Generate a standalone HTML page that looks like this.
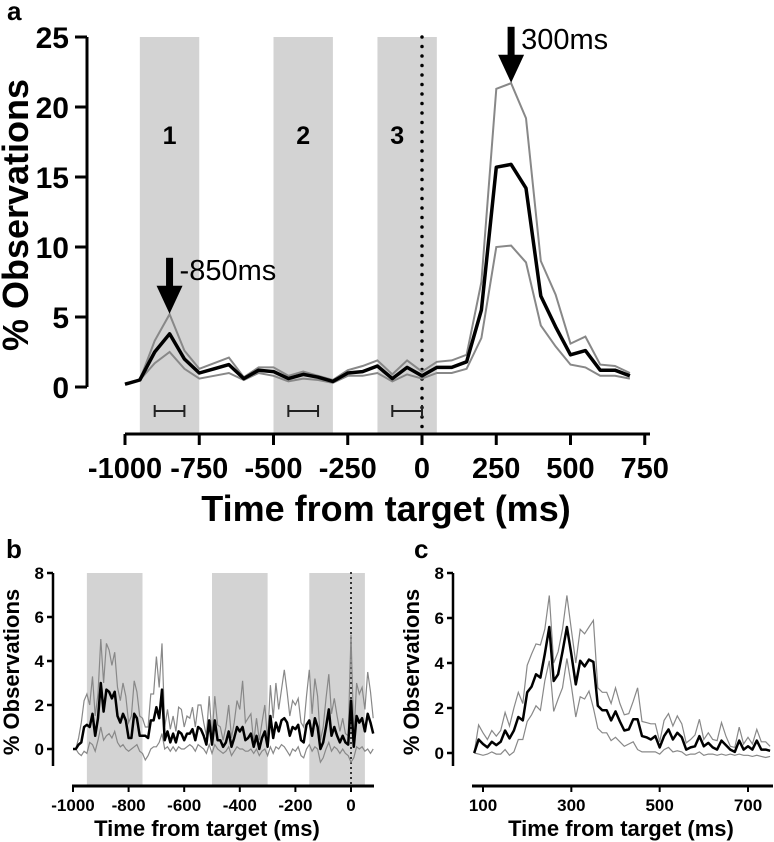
<!DOCTYPE html>
<html><head><meta charset="utf-8"><style>
body{margin:0;background:#fff;}
svg{display:block;font-family:"Liberation Sans",Arial,sans-serif;}
</style></head><body>
<svg id="fig" width="774" height="842" viewBox="0 0 774 842">
<g id="pa"></g>
<g id="pb"></g>
<g id="pc"></g>
</svg>
<script>
// Panel a data (50ms bins)
const aStart = -1000, aStep = 50;
const aMean = [0.2,0.5,2.5,3.8,2.0,1.0,1.3,1.6,0.6,1.2,1.1,0.6,0.9,0.7,0.4,1.0,1.1,1.5,0.6,1.4,0.8,1.4,1.4,1.8,5.5,15.7,15.9,14.2,6.5,4.3,2.3,2.6,1.2,1.2,0.8];
const aUpper = [0.2,0.5,3.3,5.2,2.6,1.3,1.7,2.1,0.7,1.4,1.4,0.8,1.1,0.8,0.5,1.2,1.5,1.9,0.9,1.9,1.1,1.8,1.9,2.3,7.5,21.3,21.7,19.2,9.0,6.6,3.1,3.6,1.6,1.5,1.0];
const aLower = [0.2,0.5,1.7,2.5,1.3,0.6,0.8,1.0,0.5,1.0,0.8,0.4,0.6,0.5,0.3,0.8,0.8,1.0,0.4,0.9,0.6,1.0,1.0,1.3,3.5,10.0,10.1,8.9,4.4,2.9,1.6,1.4,0.8,0.8,0.6];
const aXTicks = [-1000,-750,-500,-250,0,250,500,750];
const aYTicks = [0,5,10,15,20,25];
const aBands = [[-950,-750,'1'],[-500,-300,'2'],[-150,50,'3']];
const aErr = [[-900,-800],[-450,-350],[-100,0]];
// Panel b data (10ms bins)
const bStart = -1000, bStep = 10;
const bMean = [0,0,0.2,0.3,1.0,1.1,1.0,1.6,0.6,1.4,3.0,1.7,2.7,2.6,2.3,2.6,1.5,1.2,1.6,1.3,0.5,0.5,1.6,1.4,0.6,0.6,0.6,0.5,1.3,1.3,1.9,1.4,2.7,0.4,0.8,0.3,0.7,0.3,0.8,0.7,0.4,0.7,0.7,0.9,0.4,1.0,0.9,0.6,0.2,1.3,0.2,1.3,0.4,0.4,0.1,0.3,0.8,0.1,0.5,1.0,0.8,1.0,0.4,0.5,0.7,0.1,0.6,0.0,0.5,0.8,0.1,1.5,0.5,1.2,0.8,1.3,1.4,1.2,0.6,1.0,0.9,1.1,0.4,0.3,1.1,1.3,0.6,1.4,1.0,0.0,0.3,1.0,1.8,0.6,1.0,0.6,0.3,0.6,0.3,0.2,2.2,0.1,1.5,1.2,1.4,0.8,1.6,1.2,0.7];
const bUpper = [0,0,0.5,1.2,2.2,2.5,2.0,3.3,1.5,2.5,5.0,3.0,4.8,4.5,3.8,4.4,2.8,2.2,3.0,2.4,1.2,1.5,3.1,2.6,1.5,1.4,1.0,1.0,2.5,2.5,4.2,2.8,4.8,1.0,1.8,0.9,1.5,0.8,1.9,1.8,1.0,1.5,1.4,1.9,1.0,2.0,2.0,1.2,0.6,2.4,0.6,2.4,1.1,1.0,0.4,1.0,2.0,0.5,1.2,2.2,1.8,3.1,1.2,1.4,1.6,0.3,1.4,0.4,1.2,2.0,0.4,2.9,1.4,3.0,1.8,2.7,3.6,2.6,1.5,2.2,2.0,2.3,1.2,1.0,2.4,3.6,1.6,3.2,2.4,0.4,1.0,2.3,3.4,1.6,2.3,1.5,0.8,1.4,0.7,0.6,5.2,0.5,3.0,2.5,2.8,1.8,3.5,2.6,1.4];
const bLower = [0,0,-0.2,-0.3,-0.1,-0.2,0.3,0.2,-0.1,0.4,1.0,0.4,0.6,0.7,0.5,0.8,0.3,0.1,0.2,0.0,-0.1,0.0,0.1,0.2,-0.1,-0.2,-0.5,-0.3,0.0,0.1,0.1,0.3,0.7,0.0,0.1,-0.1,0.1,-0.1,0.1,0.0,0.0,0.1,0.2,0.1,-0.1,0.2,0.1,0.0,-0.2,0.2,-0.2,0.2,0.0,-0.1,-0.2,-0.1,0.1,-0.3,-0.1,0.1,0.0,0.0,-0.1,-0.1,0.0,-0.2,0.0,-0.3,-0.1,0.0,-0.3,0.1,-0.2,0.1,0.0,0.2,0.1,-0.1,-0.3,0.0,-0.1,0.1,-0.3,-0.4,0.0,0.2,-0.1,0.1,0.0,-0.6,-0.4,0.0,0.3,-0.1,0.1,0.0,-0.2,0.0,-0.2,-0.3,-0.6,-0.4,0.1,0.0,0.1,-0.1,0.0,-0.2,0.0];
const bXTicks = [-1000,-800,-600,-400,-200,0];
const bYTicks = [0,2,4,6,8];
const bBands = [[-950,-750],[-500,-300],[-150,50]];
// Panel c data (10ms bins)
const cStart = 80, cStep = 10;
const cMean = [0,0.6,0.4,0.25,0.5,0.35,0.5,1.0,0.65,1.0,1.6,1.45,2.7,2.95,3.5,3.35,4.4,5.6,3.2,3.5,4.5,5.6,4.4,3.05,4.1,3.85,4.15,4.05,2.1,1.9,1.9,1.45,1.85,1.4,1.0,1.05,1.5,1.5,0.75,0.7,0.6,0.75,0.25,0.75,1.05,0.6,0.9,0.7,0.15,0.25,0.3,0.75,0.3,0.45,0.25,0.15,0.55,0.35,0.15,0.05,0.55,0.15,0.3,0.15,0.55,0.15,0.15,0.1];
const cUpper = [0,1.25,0.9,0.6,1.0,0.75,1.0,1.8,1.2,2.0,2.7,2.2,3.9,4.4,4.85,4.8,5.5,7.0,4.0,4.5,5.5,7.0,5.5,4.0,5.5,5.3,5.6,5.9,2.9,2.7,2.7,2.2,2.9,2.2,1.7,1.75,2.3,2.9,1.4,1.35,1.3,1.3,0.5,1.45,1.75,1.2,1.65,1.3,0.45,0.6,0.8,1.5,0.6,0.9,0.6,0.55,1.35,0.75,0.3,0.25,1.15,0.4,0.7,0.4,1.05,0.5,0.5,0.3];
const cLower = [0,-0.05,-0.1,-0.05,0.05,-0.05,-0.05,0.15,-0.1,0.05,0.6,0.6,1.4,1.7,2.1,1.9,3.2,4.1,1.85,2.4,2.9,4.2,3.0,1.6,2.5,2.4,2.75,2.0,1.1,0.9,0.9,0.55,0.7,0.5,0.3,0.4,0.5,0.15,0.05,0.05,0.05,0.05,-0.05,0.15,0.25,0.05,0.1,0.05,-0.1,-0.05,-0.05,0.05,-0.1,-0.05,-0.05,-0.1,-0.05,-0.1,-0.05,-0.1,-0.05,-0.1,-0.1,-0.15,-0.1,-0.15,-0.2,-0.15];
const cXTicks = [100,300,500,700];
const cYTicks = [0,2,4,6,8];

const NS = 'http://www.w3.org/2000/svg';
function mk(parent, tag, attrs, text){
  const e = document.createElementNS(NS, tag);
  for (const k in attrs) e.setAttribute(k, attrs[k]);
  if (text !== undefined) e.textContent = text;
  parent.appendChild(e);
  return e;
}
function lin(d0,d1,r0,r1){ return v => r0 + (v-d0)*(r1-r0)/(d1-d0); }
function pathFrom(arr, start, step, X, Y){
  return arr.map((v,i)=>(i?'L':'M')+X(start+i*step).toFixed(1)+','+Y(v).toFixed(1)).join('');
}

// ---------- Panel A ----------
(function(){
  const g = document.getElementById('pa');
  const X = lin(-1000,0,125,422), Y = lin(0,25,387,37);
  const yAxisX = 87, xAxisY = 434;
  aBands.forEach(b=>{
    const r = mk(g,'rect',{x:X(b[0]),y:37,width:X(b[1])-X(b[0]),height:xAxisY-37,fill:'#d3d3d3'});
    
    
    const t = mk(g,'text',{x:(X(b[0])+X(b[1]))/2-(b[2]==='3'?10:0),y:144,'text-anchor':'middle','font-size':25,'font-weight':'bold'},b[2]);
    
    
  });
  const zl = mk(g,'line',{x1:X(0),y1:37,x2:X(0),y2:xAxisY,stroke:'#000','stroke-width':3.5,'stroke-dasharray':'0 9.5','stroke-linecap':'round'});
  
  
  aErr.forEach((e,i)=>{
    const y=411, eg = mk(g,'g',{stroke:'#222','stroke-width':2});
    
    
    mk(eg,'line',{x1:X(e[0]),y1:y,x2:X(e[1]),y2:y});
    mk(eg,'line',{x1:X(e[0]),y1:y-6,x2:X(e[0]),y2:y+6});
    mk(eg,'line',{x1:X(e[1]),y1:y-6,x2:X(e[1]),y2:y+6});
  });
  const lu = mk(g,'path',{d:pathFrom(aUpper,aStart,aStep,X,Y),fill:'none',stroke:'#888','stroke-width':2});
  
  
  const ll = mk(g,'path',{d:pathFrom(aLower,aStart,aStep,X,Y),fill:'none',stroke:'#888','stroke-width':2});
  
  
  const lm = mk(g,'path',{d:pathFrom(aMean,aStart,aStep,X,Y),fill:'none',stroke:'#000','stroke-width':3.5,'stroke-linejoin':'round'});
  
  
  // arrows
  [[-850,5.3,'-850ms'],[300,21.8,'300ms']].forEach(a=>{
    const ag = mk(g,'g',{});
    
    
    const x=X(a[0]), tip=Y(a[1])+1;
    mk(ag,'rect',{x:x-3.5,y:tip-56,width:7,height:30,fill:'#000'});
    mk(ag,'polygon',{points:`${x-13},${tip-28} ${x+13},${tip-28} ${x},${tip}`,fill:'#000'});
    const t = mk(ag,'text',{x:x+10,y:tip-34,'font-size':29},a[2]);
    
    
  });
  // axes
  const ya = mk(g,'line',{x1:yAxisX,y1:37,x2:yAxisX,y2:387,stroke:'#000','stroke-width':3});
  
  
  aYTicks.forEach(v=>{
    mk(g,'line',{x1:yAxisX-12,y1:Y(v),x2:yAxisX,y2:Y(v),stroke:'#000','stroke-width':3});
    const t = mk(g,'text',{x:yAxisX-18,y:Y(v)+11,'text-anchor':'end','font-size':30,'font-weight':'bold'},v);
    
    
  });
  const xa = mk(g,'line',{x1:125,y1:xAxisY,x2:650,y2:xAxisY,stroke:'#000','stroke-width':3});
  
  
  aXTicks.forEach(v=>{
    mk(g,'line',{x1:X(v),y1:xAxisY,x2:X(v),y2:xAxisY+11,stroke:'#000','stroke-width':3});
    const t = mk(g,'text',{x:X(v),y:478,'text-anchor':'middle','font-size':29,'font-weight':'bold'},v);
    
    
  });
  const xt = mk(g,'text',{x:386,y:521,'text-anchor':'middle','font-size':36,'font-weight':'bold'},'Time from target (ms)');
  
  
  const yt = mk(g,'text',{x:0,y:0,transform:'translate(28,215) rotate(-90)','text-anchor':'middle','font-size':36,'font-weight':'bold'},'% Observations');
  
  
  const pl = mk(g,'text',{x:7,y:20,'font-size':26,'font-weight':'bold'},'a');
  
  
})();

// ---------- small panels ----------
function small(gid, label, start, step, mean, upper, lower, xticks, yticks, bands, X, axX0, axX1, yAxisX, labelX, labelY, titleX, dotted){
  const g = document.getElementById(gid);
  const Y = lin(0,8,gid==='pb'?749:753,573);
  const xAxisY = 786;
  (bands||[]).forEach((b,i)=>{
    const r = mk(g,'rect',{x:X(b[0]),y:573,width:X(b[1])-X(b[0]),height:xAxisY-573,fill:'#d3d3d3'});
    
    
  });
  if (dotted){
    const zl = mk(g,'line',{x1:X(0),y1:573,x2:X(0),y2:xAxisY,stroke:'#000','stroke-width':2,'stroke-dasharray':'0 5','stroke-linecap':'round'});
    
    
  }
  const lu = mk(g,'path',{d:pathFrom(upper,start,step,X,Y),fill:'none',stroke:'#888','stroke-width':1.2});
  
  
  const ll = mk(g,'path',{d:pathFrom(lower,start,step,X,Y),fill:'none',stroke:'#888','stroke-width':1.2});
  
  
  const lm = mk(g,'path',{d:pathFrom(mean,start,step,X,Y),fill:'none',stroke:'#000','stroke-width':2.5,'stroke-linejoin':'round'});
  
  
  const ya = mk(g,'line',{x1:yAxisX,y1:573,x2:yAxisX,y2:766,stroke:'#000','stroke-width':2.5});
  
  
  yticks.forEach(v=>{
    mk(g,'line',{x1:yAxisX-6,y1:Y(v),x2:yAxisX,y2:Y(v),stroke:'#000','stroke-width':2.5});
    const t = mk(g,'text',{x:yAxisX-9,y:Y(v)+6,'text-anchor':'end','font-size':17,'font-weight':'bold'},v);
    
    
  });
  const xa = mk(g,'line',{x1:axX0,y1:xAxisY,x2:axX1,y2:xAxisY,stroke:'#000','stroke-width':3});
  
  
  xticks.forEach(v=>{
    mk(g,'line',{x1:X(v),y1:xAxisY,x2:X(v),y2:xAxisY+6,stroke:'#000','stroke-width':2});
    const t = mk(g,'text',{x:X(v),y:811,'text-anchor':'middle','font-size':17,'font-weight':'bold'},v);
    
    
  });
  const xt = mk(g,'text',{x:titleX,y:836,'text-anchor':'middle','font-size':22,'font-weight':'bold'},'Time from target (ms)');
  
  
  const yt = mk(g,'text',{x:0,y:0,transform:`translate(${yAxisX-34},${672}) rotate(-90)`,'text-anchor':'middle','font-size':22,'font-weight':'bold'},'% Observations');
  
  
  const pl = mk(g,'text',{x:labelX,y:labelY,'font-size':26,'font-weight':'bold'},label);
  
  
}
small('pb','b',bStart,bStep,bMean,bUpper,bLower,bXTicks,bYTicks,bBands,lin(-1000,0,73,351),72,374,53,6,558,207,true);
small('pc','c',cStart,cStep,cMean,cUpper,cLower,cXTicks,cYTicks,null,lin(100,700,483,748),472,773,453,414,558,621,false);
</script>
</body></html>
